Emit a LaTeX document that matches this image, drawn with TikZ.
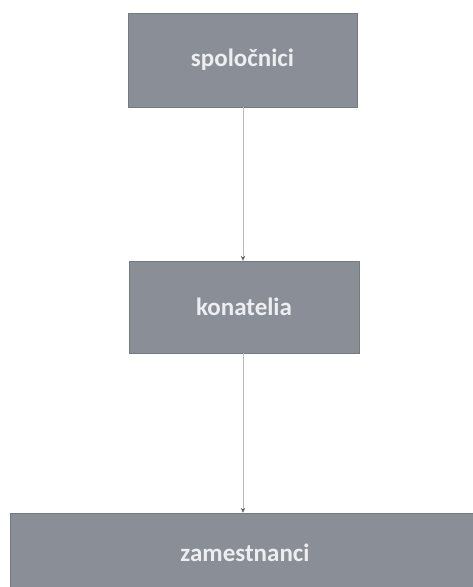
\documentclass[tikz,border=0pt]{standalone}
\usepackage{fontspec}
\setmainfont{Carlito}
\usetikzlibrary{arrows.meta}
\definecolor{boxgray}{RGB}{138,143,151}
\definecolor{txtwhite}{RGB}{236,238,241}
\definecolor{linegray}{RGB}{180,186,198}
\definecolor{tipgray}{RGB}{95,100,110}
\tikzset{
  orgbox/.style={draw=boxgray!85!black, line width=0.4pt, fill=boxgray, text=txtwhite, font=\fontsize{25}{30}\selectfont\bfseries, inner sep=0pt, anchor=center},
  conn/.style={draw=linegray, line width=0.6pt, -{Stealth[length=5pt,width=4.5pt,color=tipgray]}}
}
\begin{document}
\begin{tikzpicture}[x=1pt,y=1pt]
\useasboundingbox (0,0) rectangle (473,587);
\clip (0,0) rectangle (473,587);
\node[orgbox, minimum width=229pt, minimum height=94pt] (spol) at (242.5,527) {spoločnici};
\node[orgbox, minimum width=230pt, minimum height=92pt] (kon) at (244,280) {konatelia};
\node[orgbox, minimum width=470pt, minimum height=80pt, text depth=0pt] (zam) at (245,34) {zamestnanci};
\draw[conn] (spol.south -| 243,0) -- (kon.north -| 243,0);
\draw[conn] (kon.south -| 243,0) -- (zam.north -| 243,0);
\end{tikzpicture}
\end{document}
